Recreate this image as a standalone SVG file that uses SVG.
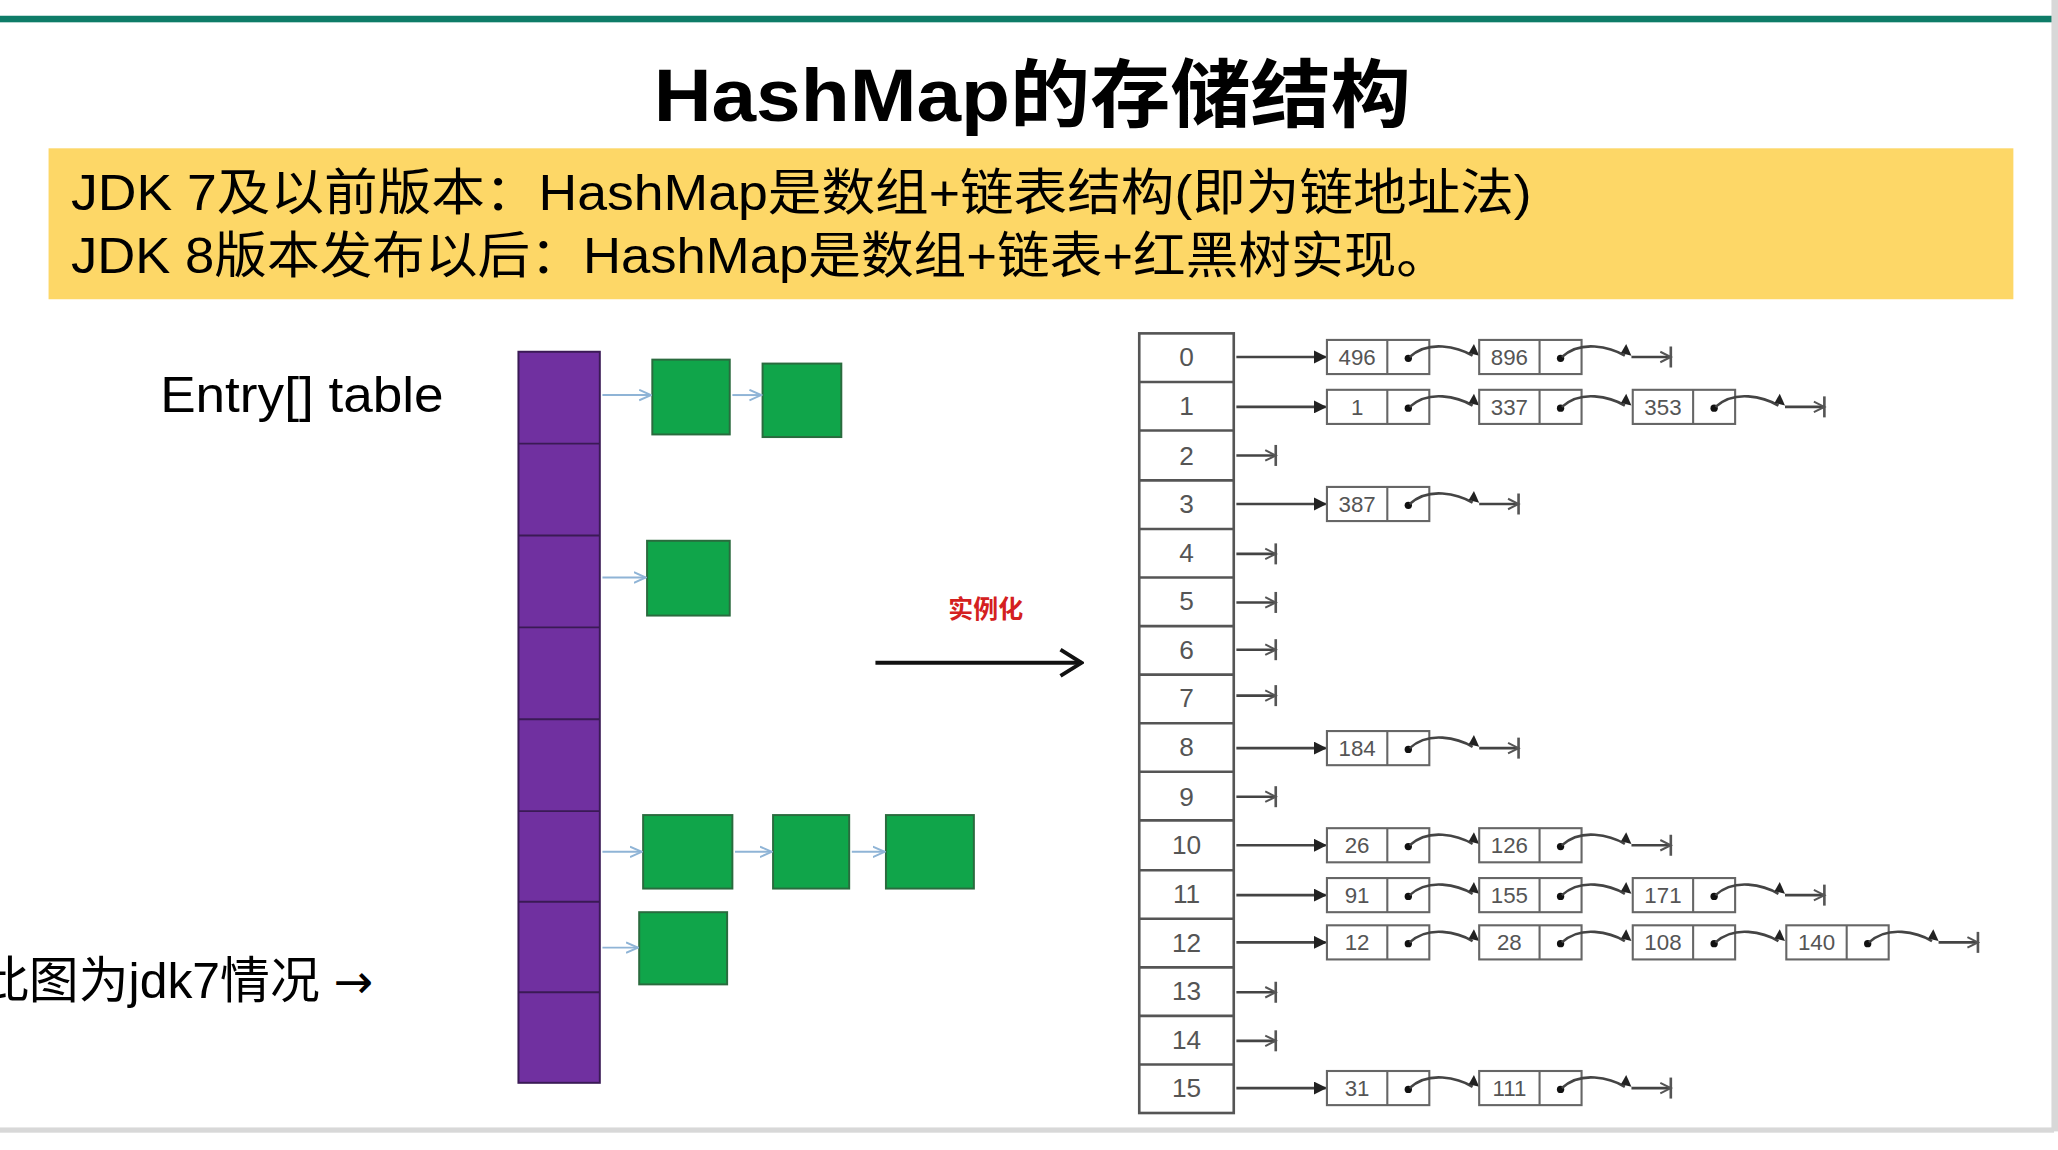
<svg xmlns="http://www.w3.org/2000/svg" xmlns:xlink="http://www.w3.org/1999/xlink" width="2058" height="1150" viewBox="0 0 2058 1150">
<style>
.t{font-family:"Liberation Sans","Noto Sans CJK SC",sans-serif;fill:#000}
.n{font-family:"Liberation Sans Narrow","Liberation Sans",sans-serif;font-size:17px;fill:#555;text-anchor:middle}
.idx{font-family:"Liberation Sans",sans-serif;font-size:20px;fill:#555;text-anchor:middle}
.g{fill:#10a54a;stroke:#2a6b3e;stroke-width:1.5}
.ba{stroke:#8fb4d6;stroke-width:1.5;fill:none}
.ln{stroke:#444;stroke-width:2;fill:none}
.box{fill:#fff;stroke:#666;stroke-width:1.6}
</style>
<defs>
<marker id="tri" markerWidth="10" markerHeight="10" refX="9" refY="5" orient="auto" markerUnits="userSpaceOnUse"><path d="M0,0 L10,5 L0,10 Z" fill="#222"/></marker>
<marker id="lb" markerWidth="10" markerHeight="10" refX="9" refY="5" orient="auto" markerUnits="userSpaceOnUse"><path d="M0,1 L9,5 L0,9" fill="none" stroke="#8fb4d6" stroke-width="1.5"/></marker>
<marker id="big" markerWidth="20" markerHeight="24" refX="18" refY="12" orient="auto" markerUnits="userSpaceOnUse"><path d="M2,2 L18,12 L2,22" fill="none" stroke="#111" stroke-width="3"/></marker>
<g id="nul"><path d="M0,0 H30" class="ln"/><path d="M30,-8 V8" stroke="#555" stroke-width="2"/><path d="M22,-4 L30,0 L22,4" fill="none" stroke="#555" stroke-width="1.5"/></g>
<g id="link"><path d="M0,0 Q10,-9 25,-8 Q38,-7 48,-1" class="ln" stroke-width="1.6"/><path d="M45,-3 L49,-10 L53,-1 Z" fill="#222"/></g>
<g id="node"><rect x="0" y="-13" width="78" height="26" class="box"/><path d="M46,-13 V13" stroke="#666" stroke-width="1.6"/><circle cx="62" cy="1" r="2.8" fill="#111"/></g>
<path id="head" d="M0,0 H68" class="ln" marker-end="url(#tri)"/>
</defs>
<g transform="scale(1.3125)">
<rect x="0" y="12" width="1565" height="5" fill="#0e7c68"/>
<rect x="1563" y="0" width="5" height="862" fill="#d8d8d8"/>
<rect x="0" y="859" width="1565" height="4" fill="#d8d8d8"/>
<g id="title"><text x="498" y="92" class="t" font-size="56" font-weight="bold" textLength="577" lengthAdjust="spacingAndGlyphs">HashMap的存储结构</text></g>
<g id="note">
<rect x="37" y="113" width="1497" height="115" fill="#fdd767"/>
<text x="54" y="160" class="t" font-size="38" textLength="1113" lengthAdjust="spacingAndGlyphs">JDK 7及以前版本：HashMap是数组+链表结构(即为链地址法)</text>
<text x="54" y="208" class="t" font-size="38" textLength="1050" lengthAdjust="spacingAndGlyphs">JDK 8版本发布以后：HashMap是数组+链表+红黑树实现。</text>
</g>
<g id="lbl1"><text x="122" y="314" class="t" font-size="38" textLength="216" lengthAdjust="spacingAndGlyphs">Entry[] table</text></g>
<g id="lbl2"><text x="-16" y="760" class="t" font-size="38">此图为jdk7情况 <tspan font-family="'DejaVu Sans',sans-serif" font-size="36">→</tspan></text></g>
<g id="jdk7">
<rect x="395" y="268" width="62" height="557" fill="#7030a0" stroke="#3a1a55" stroke-width="1.5"/>
<path d="M395,338H457M395,408H457M395,478H457M395,548H457M395,618H457M395,687H457M395,756H457" stroke="#3a1a55" stroke-width="1.5"/>
<rect x="497" y="274" width="59" height="57" class="g"/>
<rect x="581" y="277" width="60" height="56" class="g"/>
<rect x="493" y="412" width="63" height="57" class="g"/>
<rect x="490" y="621" width="68" height="56" class="g"/>
<rect x="589" y="621" width="58" height="56" class="g"/>
<rect x="675" y="621" width="67" height="56" class="g"/>
<rect x="487" y="695" width="67" height="55" class="g"/>
</g>
<g id="connectors">
<path d="M459,301H496" class="ba" marker-end="url(#lb)"/>
<path d="M558,301H580" class="ba" marker-end="url(#lb)"/>
<path d="M459,440H492" class="ba" marker-end="url(#lb)"/>
<path d="M459,649H489" class="ba" marker-end="url(#lb)"/>
<path d="M560,649H588" class="ba" marker-end="url(#lb)"/>
<path d="M649,649H674" class="ba" marker-end="url(#lb)"/>
<path d="M459,722H486" class="ba" marker-end="url(#lb)"/>
<path d="M667,505H824" stroke="#111" stroke-width="3" marker-end="url(#big)"/>
</g>
<g id="inst"><text x="751" y="471" font-family="'Noto Sans CJK SC',sans-serif" font-size="19" font-weight="bold" fill="#d42020" text-anchor="middle">实例化</text></g>
<g id="table">
<rect x="868" y="254" width="72" height="594" fill="#fff" stroke="#555" stroke-width="2"/>
<path d="M868,291H940M868,328H940M868,366H940M868,403H940M868,440H940M868,477H940M868,514H940M868,551H940M868,588H940M868,625H940M868,663H940M868,700H940M868,737H940M868,774H940M868,811H940" stroke="#555" stroke-width="2"/>
<g class="idx">
<text x="904" y="279">0</text><text x="904" y="316">1</text><text x="904" y="354">2</text><text x="904" y="391">3</text><text x="904" y="428">4</text><text x="904" y="465">5</text><text x="904" y="502">6</text><text x="904" y="539">7</text><text x="904" y="576">8</text><text x="904" y="614">9</text><text x="904" y="651">10</text><text x="904" y="688">11</text><text x="904" y="725">12</text><text x="904" y="762">13</text><text x="904" y="799">14</text><text x="904" y="836">15</text>
</g>
</g>
<g id="chains">
<use xlink:href="#head" x="942" y="272"/><use xlink:href="#head" x="942" y="310"/><use xlink:href="#head" x="942" y="384"/><use xlink:href="#head" x="942" y="570"/><use xlink:href="#head" x="942" y="644"/><use xlink:href="#head" x="942" y="682"/><use xlink:href="#head" x="942" y="718"/><use xlink:href="#head" x="942" y="829"/>
<use xlink:href="#nul" x="942" y="347"/><use xlink:href="#nul" x="942" y="422"/><use xlink:href="#nul" x="942" y="459"/><use xlink:href="#nul" x="942" y="495"/><use xlink:href="#nul" x="942" y="530"/><use xlink:href="#nul" x="942" y="607"/><use xlink:href="#nul" x="942" y="756"/><use xlink:href="#nul" x="942" y="793"/>
<use xlink:href="#node" x="1011" y="272"/><use xlink:href="#link" x="1074" y="272"/><use xlink:href="#node" x="1127" y="272"/><use xlink:href="#link" x="1190" y="272"/><use xlink:href="#nul" x="1243" y="272"/>
<use xlink:href="#node" x="1011" y="310"/><use xlink:href="#link" x="1074" y="310"/><use xlink:href="#node" x="1127" y="310"/><use xlink:href="#link" x="1190" y="310"/><use xlink:href="#node" x="1244" y="310"/><use xlink:href="#link" x="1307" y="310"/><use xlink:href="#nul" x="1360" y="310"/>
<use xlink:href="#node" x="1011" y="384"/><use xlink:href="#link" x="1074" y="384"/><use xlink:href="#nul" x="1127" y="384"/>
<use xlink:href="#node" x="1011" y="570"/><use xlink:href="#link" x="1074" y="570"/><use xlink:href="#nul" x="1127" y="570"/>
<use xlink:href="#node" x="1011" y="644"/><use xlink:href="#link" x="1074" y="644"/><use xlink:href="#node" x="1127" y="644"/><use xlink:href="#link" x="1190" y="644"/><use xlink:href="#nul" x="1243" y="644"/>
<use xlink:href="#node" x="1011" y="682"/><use xlink:href="#link" x="1074" y="682"/><use xlink:href="#node" x="1127" y="682"/><use xlink:href="#link" x="1190" y="682"/><use xlink:href="#node" x="1244" y="682"/><use xlink:href="#link" x="1307" y="682"/><use xlink:href="#nul" x="1360" y="682"/>
<use xlink:href="#node" x="1011" y="718"/><use xlink:href="#link" x="1074" y="718"/><use xlink:href="#node" x="1127" y="718"/><use xlink:href="#link" x="1190" y="718"/><use xlink:href="#node" x="1244" y="718"/><use xlink:href="#link" x="1307" y="718"/><use xlink:href="#node" x="1361" y="718"/><use xlink:href="#link" x="1424" y="718"/><use xlink:href="#nul" x="1477" y="718"/>
<use xlink:href="#node" x="1011" y="829"/><use xlink:href="#link" x="1074" y="829"/><use xlink:href="#node" x="1127" y="829"/><use xlink:href="#link" x="1190" y="829"/><use xlink:href="#nul" x="1243" y="829"/>
<g class="n">
<text x="1034" y="278">496</text><text x="1150" y="278">896</text>
<text x="1034" y="316">1</text><text x="1150" y="316">337</text><text x="1267" y="316">353</text>
<text x="1034" y="390">387</text>
<text x="1034" y="576">184</text>
<text x="1034" y="650">26</text><text x="1150" y="650">126</text>
<text x="1034" y="688">91</text><text x="1150" y="688">155</text><text x="1267" y="688">171</text>
<text x="1034" y="724">12</text><text x="1150" y="724">28</text><text x="1267" y="724">108</text><text x="1384" y="724">140</text>
<text x="1034" y="835">31</text><text x="1150" y="835">111</text>
</g>
</g>
</g>
</svg>
